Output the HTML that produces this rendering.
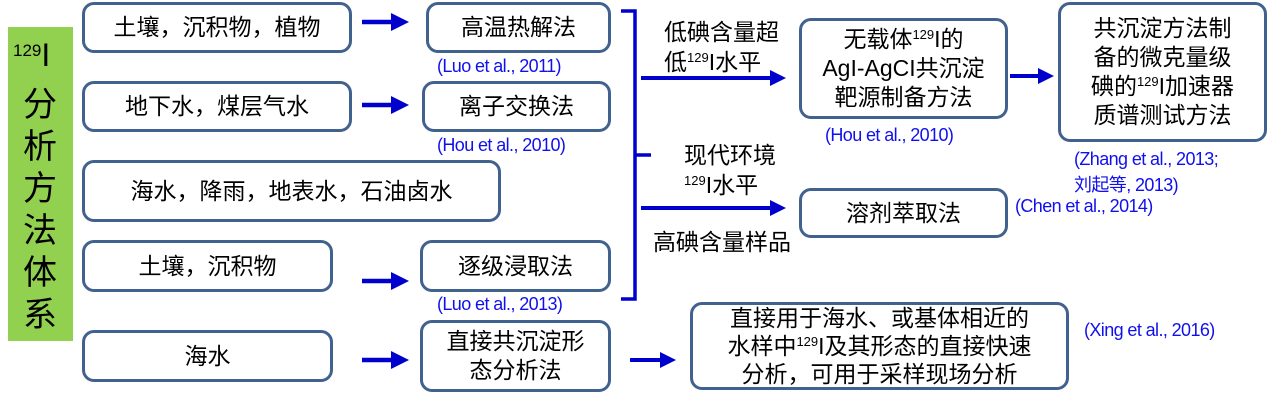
<!DOCTYPE html>
<html><head><meta charset="utf-8"><style>
body{margin:0;width:1269px;height:405px;background:#fff;position:relative;overflow:hidden;font-family:"Liberation Sans","Noto Sans CJK SC",sans-serif;}
.b{position:absolute;box-sizing:border-box;border:3px solid #41618f;border-radius:12px;display:flex;align-items:center;justify-content:center;text-align:center;font-size:23px;line-height:29px;color:#000;}
.b>span{display:block;white-space:nowrap;}
.t{position:absolute;font-size:23px;line-height:30px;color:#000;white-space:nowrap;}
.c{position:absolute;font-size:18px;color:#1010ee;white-space:nowrap;font-family:"Liberation Sans","Noto Sans CJK SC",sans-serif;letter-spacing:-0.6px;}
sup{font-size:13px;vertical-align:8px;line-height:0;}
</style></head><body>
<div style="position:absolute;left:8px;top:27px;width:65px;height:314px;background:#92d050;"></div>
<div class="t" style="left:13px;top:40px;font-size:32px;"><sup style="font-size:17px;vertical-align:10px">129</sup>I</div>
<div class="t" style="left:23px;top:84px;font-size:34px;line-height:42px;white-space:normal;width:36px;">分析方法体系</div>

<div class="b" style="left:82px;top:2px;width:270px;height:51px;"><span>土壤，沉积物，植物</span></div>
<div class="b" style="left:426px;top:2px;width:185px;height:51px;"><span>高温热解法</span></div>
<div class="c" style="left:437px;top:56px;">(Luo et al., 2011)</div>
<div class="b" style="left:82px;top:81px;width:270px;height:51px;"><span>地下水，煤层气水</span></div>
<div class="b" style="left:422px;top:81px;width:189px;height:51px;"><span>离子交换法</span></div>
<div class="c" style="left:437px;top:135px;">(Hou et al., 2010)</div>
<div class="b" style="left:82px;top:160px;width:419px;height:62px;"><span>海水，降雨，地表水，石油卤水</span></div>
<div class="b" style="left:82px;top:240px;width:251px;height:52px;"><span>土壤，沉积物</span></div>
<div class="b" style="left:420px;top:240px;width:191px;height:52px;"><span>逐级浸取法</span></div>
<div class="c" style="left:437px;top:294px;">(Luo et al., 2013)</div>
<div class="b" style="left:82px;top:330px;width:251px;height:52px;"><span>海水</span></div>
<div class="b" style="left:420px;top:320px;width:191px;height:72px;"><span>直接共沉淀形<br>态分析法</span></div>

<div class="t" style="left:664px;top:17px;">低碘含量超<br>低<sup>129</sup>I水平</div>
<div class="t" style="left:684px;top:140px;">现代环境<br><sup>129</sup>I水平</div>
<div class="t" style="left:653px;top:227px;">高碘含量样品</div>

<div class="b" style="left:799px;top:18px;width:209px;height:101px;"><span>无载体<sup>129</sup>I的<br>AgI-AgCI共沉淀<br>靶源制备方法</span></div>
<div class="c" style="left:825px;top:125px;">(Hou et al., 2010)</div>
<div class="b" style="left:1058px;top:2px;width:209px;height:140px;"><span>共沉淀方法制<br>备的微克量级<br>碘的<sup>129</sup>I加速器<br>质谱测试方法</span></div>
<div class="c" style="left:1074px;top:146px;line-height:26px;">(Zhang et al., 2013;<br>刘起等, 2013)</div>
<div class="b" style="left:799px;top:188px;width:209px;height:50px;"><span>溶剂萃取法</span></div>
<div class="c" style="left:1015px;top:196px;">(Chen et al., 2014)</div>
<div class="b" style="left:690px;top:302px;width:379px;height:88px;line-height:28px;"><span>直接用于海水、或基体相近的<br>水样中<sup>129</sup>I及其形态的直接快速<br>分析，可用于采样现场分析</span></div>
<div class="c" style="left:1084px;top:320px;">(Xing et al., 2016)</div>

<svg width="1269" height="405" style="position:absolute;left:0;top:0" xmlns="http://www.w3.org/2000/svg">
<defs><marker id="a" markerWidth="4" markerHeight="4" refX="2" refY="2" orient="auto" markerUnits="strokeWidth"><path d="M0,0L4,2L0,4z" fill="#0000cc"/></marker></defs>
<g stroke="#0000cc" stroke-width="5" fill="none">
<line x1="362" y1="22" x2="400" y2="22" marker-end="url(#a)" stroke-width="4.5"/>
<line x1="362" y1="105" x2="400" y2="105" marker-end="url(#a)" stroke-width="4.5"/>
<line x1="362" y1="281" x2="400" y2="281" marker-end="url(#a)" stroke-width="4.5"/>
<line x1="362" y1="360" x2="400" y2="360" marker-end="url(#a)" stroke-width="4.5"/>
<line x1="641" y1="78" x2="778" y2="78" marker-end="url(#a)" stroke-width="4"/>
<line x1="641" y1="208" x2="778" y2="208" marker-end="url(#a)" stroke-width="4"/>
<line x1="1010" y1="76" x2="1046" y2="76" marker-end="url(#a)" stroke-width="4"/>
<line x1="630" y1="360" x2="668" y2="360" marker-end="url(#a)" stroke-width="4"/>
<path d="M621,11 H635 V299 H621 M635,155 H651" stroke-width="3.5"/>
</g>
</svg>
</body></html>
